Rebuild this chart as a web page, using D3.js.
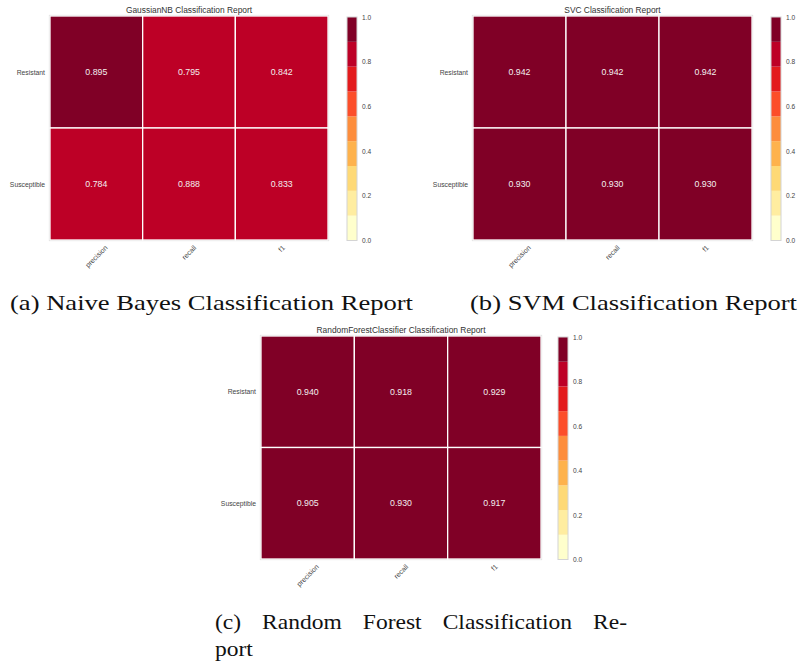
<!DOCTYPE html>
<html><head><meta charset="utf-8">
<script src="https://cdn.jsdelivr.net/npm/d3@7"></script>
<style>body{margin:0;background:#fff}</style>
</head><body><svg id="c" width="798" height="667"></svg>
<script>
// ---------- data ----------
const classes = ["Resistant", "Susceptible"];
const metrics = ["precision", "recall", "f1"];
const gaussianNB = [[0.895, 0.795, 0.842], [0.784, 0.888, 0.833]];
const svc = [[0.942, 0.942, 0.942], [0.930, 0.930, 0.930]];
const randomForest = [[0.940, 0.918, 0.929], [0.905, 0.930, 0.917]];
const titles = ["GaussianNB Classification Report", "SVC Classification Report", "RandomForestClassifier Classification Report"];
const colorbarTicks = [0.0, 0.2, 0.4, 0.6, 0.8, 1.0];
const captionA = "(a) Naive Bayes Classification Report";
const captionB = "(b) SVM Classification Report";
const captionC1 = "(c) Random Forest Classification Re-";
const captionC2 = "port";

// ---------- layout ----------
const panels = [
  {values: gaussianNB, title: titles[0], x0: 50, x1: 328, y0: 16, y1: 240, cb: 347},
  {values: svc, title: titles[1], x0: 473, x1: 752, y0: 16, y1: 240, cb: 771},
  {values: randomForest, title: titles[2], x0: 261, x1: 541, y0: 336, y1: 559, cb: 558}
];
const svg = d3.select("#c");
const sans = "'Liberation Sans', Arial, sans-serif";
const serif = "'Liberation Serif', 'Times New Roman', serif";
const color = d3.scaleQuantize().domain([0, 1]).range(d3.schemeYlOrRd[9]);
const fmt = d3.format(".3f");

panels.forEach(p => {
  const g = svg.append("g");
  const x = d3.scaleBand().domain(metrics).range([p.x0, p.x1]);
  const y = d3.scaleBand().domain(classes).range([p.y0, p.y1]);
  const cells = [];
  classes.forEach((c, i) => metrics.forEach((m, j) => cells.push({c, m, v: p.values[i][j]})));
  g.append("rect").attr("x", p.x0 - 0.5).attr("y", p.y0 - 0.5)
    .attr("width", p.x1 - p.x0 + 1).attr("height", p.y1 - p.y0 + 1)
    .attr("fill", "none").attr("stroke", "#d4d4d4").attr("stroke-width", 1.2);
  g.selectAll("rect.cell").data(cells).join("rect").attr("class", "cell")
    .attr("x", d => x(d.m)).attr("y", d => y(d.c))
    .attr("width", x.bandwidth()).attr("height", y.bandwidth())
    .attr("fill", d => color(d.v)).attr("stroke", "#fff").attr("stroke-width", 1.3);
  g.selectAll("text.val").data(cells).join("text").attr("class", "val")
    .attr("x", d => x(d.m) + x.bandwidth() / 2).attr("y", d => y(d.c) + y.bandwidth() / 2)
    .attr("text-anchor", "middle").attr("dominant-baseline", "central")
    .attr("font-family", sans).attr("font-size", 8.8).attr("fill", "#f2eeee")
    .text(d => fmt(d.v));
  // title
  g.append("text").attr("x", (p.x0 + p.x1) / 2).attr("y", p.y0 - 6)
    .attr("text-anchor", "middle").attr("dominant-baseline", "central")
    .attr("font-family", sans).attr("font-size", 8.4).attr("fill", "#333").text(p.title);
  // y labels
  g.selectAll("text.yl").data(classes).join("text").attr("class", "yl")
    .attr("x", p.x0 - 5).attr("y", d => y(d) + y.bandwidth() / 2)
    .attr("text-anchor", "end").attr("dominant-baseline", "central")
    .attr("font-family", sans).attr("font-size", 6.8).attr("fill", "#444").text(d => d);
  // x labels rotated 45
  g.selectAll("text.xl").data(metrics).join("text").attr("class", "xl")
    .attr("text-anchor", "middle").attr("dominant-baseline", "central")
    .attr("font-family", sans).attr("font-size", 7).attr("fill", "#444").text(d => d)
    .each(function(d) {
      const w = this.getComputedTextLength();
      const h = 7;
      const cx = x(d) + x.bandwidth() / 2;
      const cy = p.y1 + 4 + (w + h) / (2 * Math.SQRT2);
      d3.select(this).attr("x", cx).attr("y", cy).attr("transform", `rotate(-45,${cx},${cy})`);
    });
  // colorbar
  const cbTop = p.y0 + 1, cbBot = p.y1 + 0.5, cbW = 10;
  const cy = d3.scaleLinear().domain([0, 1]).range([cbBot, cbTop]);
  const bins = color.range().map(c => ({c, lo: color.invertExtent(c)[0], hi: color.invertExtent(c)[1]}));
  g.selectAll("rect.bin").data(bins).join("rect").attr("class", "bin")
    .attr("x", p.cb).attr("width", cbW)
    .attr("y", d => cy(d.hi)).attr("height", d => cy(d.lo) - cy(d.hi))
    .attr("fill", d => d.c);
  g.append("rect").attr("x", p.cb).attr("y", cbTop).attr("width", cbW).attr("height", cbBot - cbTop)
    .attr("fill", "none").attr("stroke", "#d4d4d4").attr("stroke-width", 1);
  g.selectAll("text.cbt").data(colorbarTicks).join("text").attr("class", "cbt")
    .attr("x", p.cb + cbW + 5).attr("y", d => cy(d))
    .attr("dominant-baseline", "central")
    .attr("font-family", sans).attr("font-size", 6.6).attr("fill", "#444")
    .text(d => d3.format(".1f")(d));
});

// ---------- captions ----------
function fitText(str, x0, x1, yb) {
  const t = svg.append("text").attr("x", x0).attr("y", yb)
    .attr("font-family", serif).attr("font-size", 21).attr("fill", "#111").text(str);
  t.attr("textLength", x1 - x0).attr("lengthAdjust", "spacingAndGlyphs");
  return t;
}
function justify(str, x0, x1, yb) {
  const words = str.split(" ");
  const tmp = [];
  let total = 0;
  words.forEach(w => {
    const t = svg.append("text").attr("y", yb).attr("font-family", serif)
      .attr("font-size", 21).attr("fill", "#111").text(w);
    const wd = t.node().getComputedTextLength() * 1.12;
    t.attr("textLength", wd).attr("lengthAdjust", "spacingAndGlyphs");
    tmp.push({t, wd});
    total += wd;
  });
  const gap = (x1 - x0 - total) / (words.length - 1);
  let cx = x0;
  tmp.forEach(o => { o.t.attr("x", cx); cx += o.wd + gap; });
}
fitText(captionA, 10, 413, 310);
fitText(captionB, 470, 797, 310);
justify(captionC1, 215, 627, 629);
const p2 = svg.append("text").attr("x", 215).attr("y", 656).attr("font-family", serif)
  .attr("font-size", 21).attr("fill", "#111").text(captionC2);
p2.attr("textLength", p2.node().getComputedTextLength() * 1.12).attr("lengthAdjust", "spacingAndGlyphs");
</script></body></html>
